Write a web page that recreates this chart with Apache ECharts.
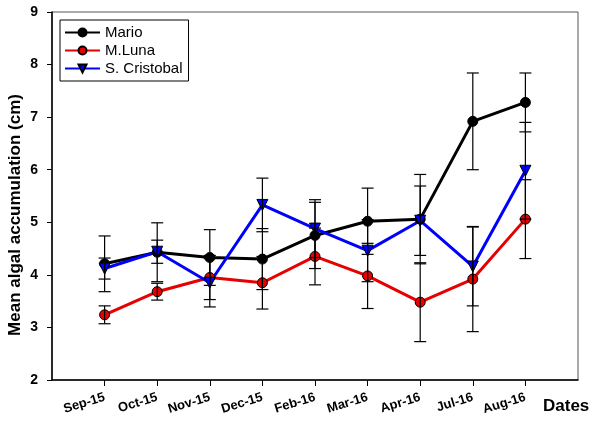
<!DOCTYPE html>
<html>
<head>
<meta charset="utf-8">
<script src="https://cdn.jsdelivr.net/npm/echarts@6/dist/echarts.min.js"></script>
<style>html,body{margin:0;padding:0;background:#fff}#c{width:600px;height:423px}</style>
</head>
<body>
<div id="c"></div>
<script>
const categories = ['Sep-15','Oct-15','Nov-15','Dec-15','Feb-16','Mar-16','Apr-16','Jul-16','Aug-16'];
const seriesNames = ['Mario','M.Luna','S. Cristobal'];
const mario    = [4.21, 4.43, 4.33, 4.30, 4.75, 5.02, 5.06, 6.92, 7.28];
const marioErr = [0.53, 0.56, 0.53, 0.58, 0.63, 0.63, 0.85, 0.92, 0.56];
const luna     = [3.24, 3.68, 3.95, 3.85, 4.35, 3.98, 3.48, 3.92, 5.06];
const lunaErr  = [0.17, 0.16, 0.42, 0.50, 0.54, 0.62, 0.75, 1.00, 0.75];
const cristobal    = [4.12, 4.44, 3.85, 5.33, 4.88, 4.46, 5.03, 4.16, 5.98];
const cristobalErr = [0.20, 0.22, 0.46, 0.51, 0.55, 0.59, 0.66, 0.75, 0.92];
const yTicks = [2, 3, 4, 5, 6, 7, 8, 9];

const FONT = "'Liberation Sans', Arial, sans-serif";
const pts = arr => arr.map((v, i) => [i + 1, v]);
const errPts = (arr, err) => arr.map((v, i) => [i + 1, v, err[i]]);

function renderErr(params, api) {
  const x = api.value(0), y = api.value(1), e = api.value(2);
  const top = api.coord([x, y + e]);
  const bot = api.coord([x, y - e]);
  const hw = 6;
  const st = {stroke: '#000', lineWidth: 1.2};
  return {type: 'group', children: [
    {type: 'line', shape: {x1: top[0], y1: top[1], x2: bot[0], y2: bot[1]}, style: st},
    {type: 'line', shape: {x1: top[0]-hw, y1: top[1], x2: top[0]+hw, y2: top[1]}, style: st},
    {type: 'line', shape: {x1: bot[0]-hw, y1: bot[1], x2: bot[0]+hw, y2: bot[1]}, style: st}
  ]};
}

const lineColors = ['#000000', '#e60000', '#0000ff'];
const values = [mario, luna, cristobal];
const errs = [marioErr, lunaErr, cristobalErr];
const symbols = ['circle', 'circle', 'triangle'];

const series = [];
values.forEach((vals, k) => {
  series.push({
    name: seriesNames[k], type: 'line', data: pts(vals),
    symbol: symbols[k], symbolSize: k === 2 ? 11 : 10,
    symbolRotate: k === 2 ? 180 : 0,
    lineStyle: {color: lineColors[k], width: 3},
    itemStyle: {color: lineColors[k], borderColor: '#000', borderWidth: 1},
    z: 2, animation: false
  });
});
values.forEach((vals, k) => {
  series.push({
    type: 'custom', data: errPts(vals, errs[k]), renderItem: renderErr,
    z: 5, silent: true, animation: false, encode: {x: 0, y: 1}
  });
});

const chart = echarts.init(document.getElementById('c'));
chart.setOption({
  animation: false,
  textStyle: {fontFamily: FONT},
  grid: {left: 52, right: 22, top: 12, bottom: 43, show: true, borderColor: '#555', borderWidth: 1},
  legend: {
    data: seriesNames, orient: 'vertical', left: 60, top: 20,
    borderColor: '#000', borderWidth: 1, padding: [5, 6, 5, 4],
    itemWidth: 35, itemHeight: 10, itemGap: 3,
    textStyle: {fontSize: 15, color: '#000', fontFamily: FONT}
  },
  xAxis: {
    type: 'value', min: 0, max: 10, interval: 1,
    splitLine: {show: false},
    axisLine: {lineStyle: {color: '#000', width: 1.5}},
    axisTick: {show: true, length: 6, lineStyle: {color: '#000'}, customValues: categories.map((c, i) => i + 1)},
    axisLabel: {
      customValues: categories.map((c, i) => i + 1),
      formatter: v => categories[v - 1] || '',
      rotate: 17, fontSize: 13, fontWeight: 'bold', color: '#000', fontFamily: FONT, margin: 17
    }
  },
  yAxis: {
    type: 'value', min: yTicks[0], max: yTicks[yTicks.length - 1], interval: 1,
    splitLine: {show: false},
    axisLine: {show: true, lineStyle: {color: '#000', width: 1.5}},
    axisTick: {show: true, length: 5, lineStyle: {color: '#000'}},
    axisLabel: {fontSize: 14, fontWeight: 'bold', color: '#000', fontFamily: FONT, margin: 14}
  },
  graphic: [{
    type: 'text', x: 15, y: 215, rotation: Math.PI / 2,
    style: {text: 'Mean algal accumulation (cm)', font: 'bold 17px ' + FONT, fill: '#000',
            align: 'center', verticalAlign: 'middle'}
  }, {
    type: 'text', left: 543, top: 398,
    style: {text: 'Dates', font: 'bold 17px ' + FONT, fill: '#000'}
  }],
  series: series
});
</script>
</body>
</html>
